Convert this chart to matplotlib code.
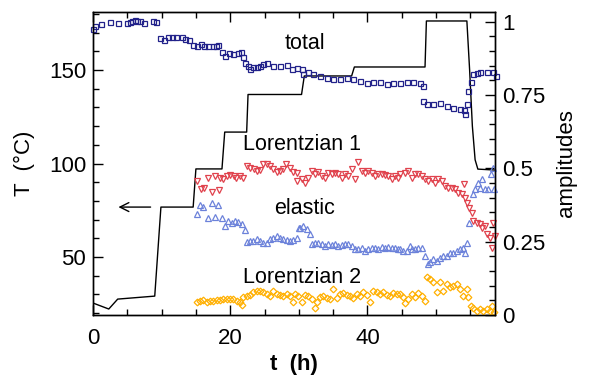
import matplotlib
matplotlib.use("Agg")
import matplotlib.pyplot as plt
from matplotlib.ticker import MultipleLocator

plt.rcParams['font.family'] = ['Liberation Sans', 'DejaVu Sans']

# Temperature profile (left axis)
temp_t = [0.0, 2.3, 3.6, 9.0, 9.9, 14.6, 15.0, 18.8, 19.2, 22.4, 22.6, 30.4, 30.8,
          37.7, 38.1, 48.4, 48.6, 54.5, 54.9, 55.3, 55.7, 56.1, 58.6]
temp_T = [25.4, 22.2, 27.5, 29.1, 76.7, 76.7, 97.1, 97.1, 116.8, 116.8, 136.9, 136.9, 146.8,
          146.8, 151.6, 151.6, 176.2, 176.2, 150.0, 120.0, 102.0, 97.0, 96.5]

# total amplitude
total_t = [0.0, 0.34, 1.12, 2.43, 3.64, 5.0, 5.35, 5.69, 6.08, 6.46, 6.81, 7.43, 8.75, 9.14,
           9.72, 10.35, 10.93, 11.56, 12.06, 12.93, 13.41, 14.04, 14.62, 15.16, 15.7, 16.22,
           16.81, 17.45, 17.93, 18.27, 18.76, 19.24, 19.87, 20.45, 21.09, 21.57, 21.82, 22.16,
           22.64, 22.89, 23.37, 23.86, 24.34, 24.83, 25.32, 26.28, 27.26, 28.24, 28.97, 29.69,
           30.42, 30.66, 31.38, 32.11, 33.09, 34.07, 35.03, 36.01, 36.98, 37.94, 38.92, 39.9,
           40.86, 41.84, 42.81, 43.78, 44.75, 45.73, 46.69, 47.67, 48.06, 48.15, 48.64, 49.61,
           50.58, 51.56, 52.52, 53.5, 54.08, 54.23, 54.48, 54.71, 55.06, 55.44, 55.93, 56.41,
           57.39, 58.35, 58.75]
total_a = [0.976, 0.984, 0.992, 0.999, 0.995, 0.995, 0.999, 1.001, 1.007, 1.001, 1.004, 0.995,
           1.001, 0.999, 0.944, 0.939, 0.948, 0.948, 0.948, 0.948, 0.941, 0.938, 0.919, 0.918,
           0.924, 0.916, 0.916, 0.917, 0.916, 0.921, 0.896, 0.884, 0.894, 0.890, 0.894, 0.896,
           0.880, 0.860, 0.850, 0.839, 0.845, 0.845, 0.850, 0.857, 0.859, 0.850, 0.850, 0.854,
           0.837, 0.843, 0.839, 0.823, 0.828, 0.822, 0.816, 0.808, 0.805, 0.805, 0.808, 0.803,
           0.797, 0.791, 0.794, 0.794, 0.786, 0.791, 0.791, 0.794, 0.794, 0.791, 0.782, 0.729,
           0.720, 0.718, 0.723, 0.712, 0.706, 0.704, 0.698, 0.684, 0.718, 0.763, 0.794, 0.822,
           0.826, 0.829, 0.829, 0.828, 0.814]

# Lorentzian 1
lor1_t = [15.1, 15.7, 16.2, 16.8, 17.3, 17.8, 18.3, 18.5, 19.0, 19.5, 20.0, 20.5, 20.9, 21.4,
          21.9, 22.4, 22.9, 23.4, 23.9, 24.3, 24.8, 25.3, 25.8, 26.3, 26.8, 27.3, 27.7, 28.2,
          28.7, 29.2, 29.7, 29.7, 30.42, 30.9, 31.39, 31.88, 32.36, 32.84, 33.34, 33.82, 34.3,
          34.8, 35.28, 35.76, 36.25, 36.73, 37.22, 37.71, 38.19, 38.67, 39.17, 39.65, 40.13,
          40.63, 41.11, 41.59, 42.08, 42.57, 43.05, 43.54, 44.02, 44.5, 44.75, 45.48, 45.96,
          46.46, 46.94, 47.42, 47.92, 48.4, 48.88, 49.37, 49.85, 50.34, 50.83, 51.31, 51.79,
          52.29, 52.77, 53.25, 53.75, 54.13, 54.23, 54.48, 54.81, 55.2, 55.44, 55.93, 56.41,
          56.75, 57.14, 57.39, 57.87, 58.12, 58.35, 58.6]
lor1_a = [0.457, 0.429, 0.432, 0.468, 0.418, 0.474, 0.426, 0.468, 0.465, 0.474, 0.476, 0.474,
          0.468, 0.474, 0.468, 0.508, 0.502, 0.497, 0.491, 0.494, 0.514, 0.514, 0.508, 0.497,
          0.486, 0.491, 0.497, 0.514, 0.502, 0.486, 0.457, 0.485, 0.463, 0.451, 0.468, 0.491,
          0.480, 0.487, 0.474, 0.468, 0.485, 0.480, 0.485, 0.480, 0.468, 0.480, 0.474, 0.497,
          0.463, 0.521, 0.491, 0.485, 0.491, 0.485, 0.474, 0.480, 0.480, 0.476, 0.474, 0.463,
          0.474, 0.468, 0.480, 0.485, 0.491, 0.468, 0.480, 0.480, 0.474, 0.463, 0.457, 0.463,
          0.451, 0.463, 0.457, 0.440, 0.434, 0.434, 0.429, 0.417, 0.412, 0.446, 0.400, 0.383,
          0.366, 0.349, 0.321, 0.315, 0.310, 0.298, 0.304, 0.276, 0.264, 0.230, 0.315, 0.270]

# elastic
elas_t = [15.12, 15.6, 16.08, 16.81, 17.3, 17.78, 18.27, 18.76, 19.24, 19.72, 20.22, 20.7,
          21.18, 21.68, 22.16, 22.49, 22.89, 23.37, 23.86, 24.34, 24.83, 25.32, 25.8, 26.28,
          26.78, 27.26, 27.74, 28.24, 28.72, 29.2, 29.69, 30.07, 30.17, 30.66, 31.15, 31.63,
          31.88, 32.36, 32.84, 33.34, 33.82, 34.3, 34.8, 35.28, 35.76, 36.25, 36.73, 37.22,
          37.71, 38.19, 38.67, 39.17, 39.65, 40.13, 40.63, 41.11, 41.59, 42.08, 42.57, 43.05,
          43.54, 44.02, 44.5, 44.75, 45.23, 45.73, 46.21, 46.46, 46.94, 47.42, 47.92, 48.4,
          48.79, 49.13, 49.61, 50.1, 50.58, 51.06, 51.56, 52.04, 52.52, 53.02, 53.5, 53.98,
          54.23, 54.48, 54.81, 55.44, 55.69, 56.08, 56.41, 56.75, 57.14, 57.62, 58.02, 58.27,
          58.5]
elas_a = [0.344, 0.374, 0.367, 0.330, 0.383, 0.333, 0.374, 0.330, 0.304, 0.321, 0.313, 0.321,
          0.316, 0.310, 0.291, 0.249, 0.253, 0.253, 0.259, 0.253, 0.245, 0.247, 0.259, 0.264,
          0.270, 0.261, 0.259, 0.256, 0.253, 0.256, 0.264, 0.295, 0.298, 0.304, 0.293, 0.276,
          0.241, 0.247, 0.245, 0.241, 0.236, 0.241, 0.239, 0.241, 0.236, 0.238, 0.241, 0.241,
          0.236, 0.224, 0.224, 0.230, 0.219, 0.224, 0.230, 0.230, 0.224, 0.232, 0.227, 0.233,
          0.227, 0.230, 0.224, 0.224, 0.219, 0.219, 0.236, 0.224, 0.224, 0.230, 0.230, 0.200,
          0.173, 0.179, 0.190, 0.185, 0.196, 0.202, 0.202, 0.213, 0.213, 0.219, 0.224, 0.230,
          0.213, 0.247, 0.313, 0.412, 0.429, 0.451, 0.434, 0.463, 0.431, 0.431, 0.480, 0.502,
          0.431]

# Lorentzian 2
lor2_t = [15.12, 15.6, 16.08, 16.57, 17.06, 17.54, 18.03, 18.51, 19.0, 19.49, 19.97, 20.45,
          20.95, 21.43, 21.68, 21.91, 22.4, 22.89, 23.37, 23.86, 24.34, 24.83, 25.32, 25.8,
          26.28, 26.78, 27.26, 27.74, 28.24, 28.72, 29.2, 29.45, 29.93, 30.42, 30.9, 31.39,
          31.88, 32.36, 32.61, 33.09, 33.57, 34.07, 34.55, 35.03, 35.52, 36.01, 36.49, 36.98,
          37.46, 37.94, 38.44, 38.92, 39.4, 39.9, 40.38, 40.86, 41.36, 41.84, 42.32, 42.81,
          43.29, 43.78, 44.27, 44.75, 45.23, 45.48, 45.96, 46.46, 46.94, 47.42, 47.92, 48.4,
          48.64, 49.13, 49.61, 50.1, 50.58, 51.06, 51.56, 52.04, 52.52, 53.02, 53.5, 53.98,
          54.48, 54.71, 55.1, 55.44, 55.93, 56.41, 56.9, 57.39, 57.87, 58.12, 58.5]
lor2_a = [0.045, 0.048, 0.052, 0.043, 0.048, 0.048, 0.052, 0.052, 0.054, 0.054, 0.056, 0.056,
          0.048, 0.045, 0.034, 0.060, 0.066, 0.068, 0.077, 0.083, 0.083, 0.077, 0.071, 0.066,
          0.083, 0.071, 0.068, 0.064, 0.071, 0.066, 0.045, 0.071, 0.066, 0.045, 0.068, 0.064,
          0.054, 0.023, 0.045, 0.060, 0.066, 0.057, 0.054, 0.088, 0.057, 0.071, 0.075, 0.068,
          0.066, 0.057, 0.071, 0.066, 0.077, 0.068, 0.045, 0.083, 0.077, 0.071, 0.077, 0.068,
          0.066, 0.075, 0.071, 0.071, 0.060, 0.041, 0.054, 0.071, 0.060, 0.075, 0.066, 0.048,
          0.128, 0.122, 0.111, 0.077, 0.111, 0.083, 0.105, 0.094, 0.100, 0.105, 0.088, 0.066,
          0.088, 0.060, 0.030, 0.023, 0.015, 0.020, 0.015, 0.020, 0.015, 0.030, 0.009]

fig = plt.figure(figsize=(5.9, 3.79), dpi=100)
ax = fig.add_axes([93/590, 1 - 315/379, (495-93)/590, (315-12)/379])
ax2 = ax.twinx()

ax.plot(temp_t, temp_T, color='black', lw=1.0, zorder=1)
ax.annotate('', xy=(3.3, 76.7), xytext=(8.8, 76.7),
            arrowprops=dict(arrowstyle='->', color='black', lw=1.0, mutation_scale=16))

mk = dict(linestyle='none', markerfacecolor='none', clip_on=False)
ax2.plot(total_t, total_a, marker='s', markersize=3.6, markeredgewidth=0.9,
         markeredgecolor='#22228a', **mk)
ax2.plot(lor1_t, lor1_a, marker='v', markersize=5, markeredgewidth=0.9,
         markeredgecolor='#e0424d', **mk)
ax2.plot(elas_t, elas_a, marker='^', markersize=5, markeredgewidth=0.9,
         markeredgecolor='#6c82da', **mk)
ax2.plot(lor2_t, lor2_a, marker='D', markersize=3.4, markeredgewidth=0.9,
         markeredgecolor='#ffb000', **mk)

ax.set_xlim(0, 58.6)
ax.set_ylim(19, 181)
ax2.set_ylim(0, 1.033)

ax.xaxis.set_major_locator(MultipleLocator(20))
ax.xaxis.set_minor_locator(MultipleLocator(5))
ax.yaxis.set_major_locator(MultipleLocator(50))
ax.yaxis.set_minor_locator(MultipleLocator(10))
ax2.yaxis.set_major_locator(MultipleLocator(0.25))
ax2.yaxis.set_minor_locator(MultipleLocator(0.05))
ax2.set_yticks([0, 0.25, 0.5, 0.75, 1])
ax2.set_yticklabels(['0', '0.25', '0.5', '0.75', '1'])

ax.tick_params(axis='both', which='both', direction='in', top=True, right=False,
               labelsize=16, width=1.0)
ax.tick_params(which='major', length=7)
ax.tick_params(which='minor', length=4)
ax.tick_params(axis='x', pad=9)
ax.tick_params(axis='y', pad=5)
ax2.tick_params(axis='y', which='both', direction='in', labelsize=16, width=1.0, pad=5)
ax2.tick_params(which='major', length=7)
ax2.tick_params(which='minor', length=4)

for a in (ax, ax2):
    for s in a.spines.values():
        s.set_linewidth(1.0)

ax.set_xlabel('t  (h)', fontsize=16, fontweight='bold', labelpad=4)
ax.set_ylabel('T  (°C)', fontsize=16, labelpad=10)
ax2.set_ylabel('amplitudes', fontsize=16, labelpad=8)

tk = dict(fontsize=15.5, ha='center', va='center')
ax.text(30.9, 164.4, 'total', **tk)
ax.text(30.5, 109.9, 'Lorentzian 1', **tk)
ax.text(30.9, 76.2, 'elastic', **tk)
ax.text(30.5, 38.8, 'Lorentzian 2', **tk)

fig.savefig('out.png', dpi=100)
